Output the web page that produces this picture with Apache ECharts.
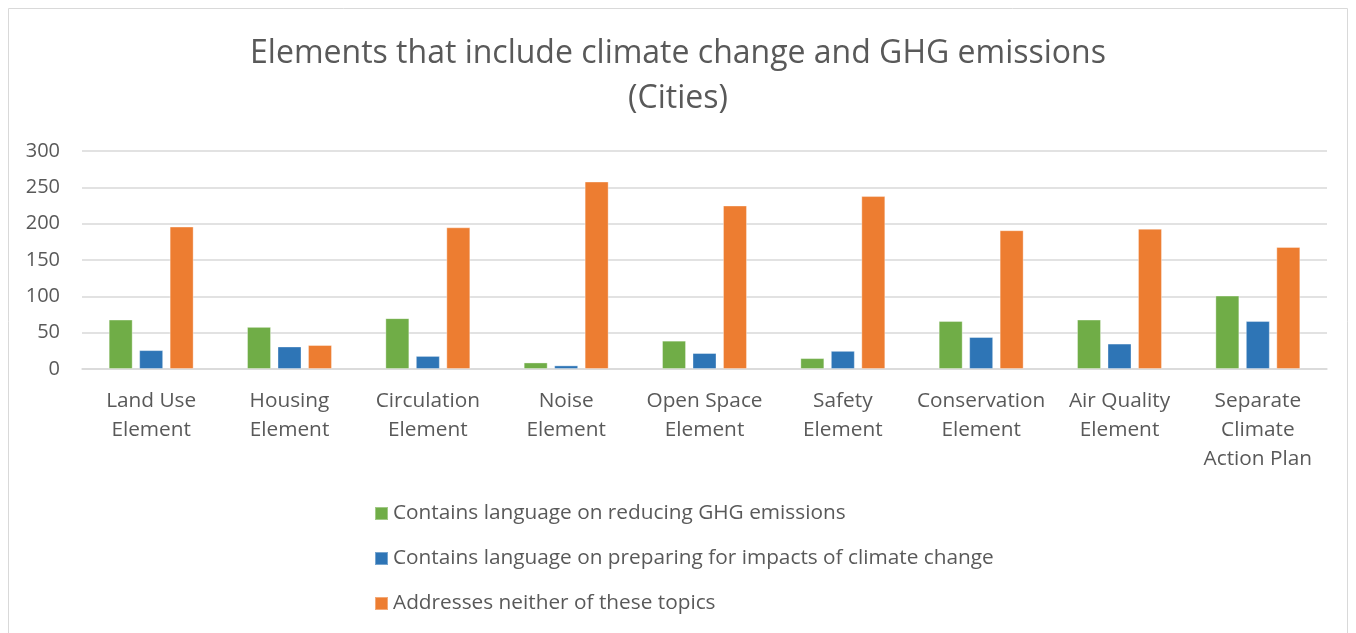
<!DOCTYPE html>
<html><head><meta charset="utf-8">
<script src="https://cdn.jsdelivr.net/npm/echarts@6/dist/echarts.min.js"></script>
<style>html,body{margin:0;padding:0;background:#fff}#c{width:1356px;height:633px}</style>
</head><body><div id="c"></div>
<script>
const categories = ['Land Use\nElement','Housing\nElement','Circulation\nElement','Noise\nElement','Open Space\nElement','Safety\nElement','Conservation\nElement','Air Quality\nElement','Separate\nClimate\nAction Plan'];
const reducingGHG = [68, 58, 70, 9, 39, 15, 66, 68, 101];
const preparingImpacts = [26, 31, 18, 5, 22, 25, 44, 35, 66];
const neither = [196, 33, 195, 258, 225, 238, 191, 193, 168];
const seriesNames = ['Contains language on reducing GHG emissions','Contains language on preparing for impacts of climate change','Addresses neither of these topics'];
const colors = ['#70AD47','#2E75B6','#ED7D31'];
const FONT = 'Open Sans';
const chart = echarts.init(document.getElementById('c'));
const mk = (name, data, color) => ({
  name, type:'bar', data, barWidth:24, barGap:'27%',
  itemStyle:{color, borderColor:'rgba(255,255,255,0.35)', borderWidth:1}
});
chart.setOption({
  animation:false,
  textStyle:{fontFamily:FONT},
  graphic:[{type:'rect', shape:{x:8.5,y:8.5,width:1339,height:640}, style:{fill:'none', stroke:'#d9d9d9', lineWidth:1}}],
  title:{text:'Elements that include climate change and GHG emissions\n(Cities)', left:'center', top:26,
    textStyle:{fontFamily:FONT, fontSize:32, fontWeight:'normal', color:'#595959', lineHeight:45}},
  grid:{left:82, right:29, top:151, bottom:264},
  legend:{orient:'vertical', left:369, top:498, itemWidth:13, itemHeight:13, itemGap:24, padding:5,
    icon:'rect', data:seriesNames,
    textStyle:{fontFamily:FONT, fontSize:20.8, color:'#595959'}},
  xAxis:{type:'category', data:categories,
    axisLine:{lineStyle:{color:'#d9d9d9', width:1.5}}, axisTick:{show:false},
    axisLabel:{fontFamily:FONT, fontSize:20.8, color:'#595959', lineHeight:29, margin:18, interval:0}},
  yAxis:{type:'value', min:0, max:300, interval:50,
    axisLine:{show:false}, axisTick:{show:false},
    splitLine:{lineStyle:{color:'#d9d9d9', width:1.5}},
    axisLabel:{fontFamily:FONT, fontSize:20, color:'#595959', margin:22}},
  series:[mk(seriesNames[0], reducingGHG, colors[0]), mk(seriesNames[1], preparingImpacts, colors[1]), mk(seriesNames[2], neither, colors[2])]
});
</script></body></html>
